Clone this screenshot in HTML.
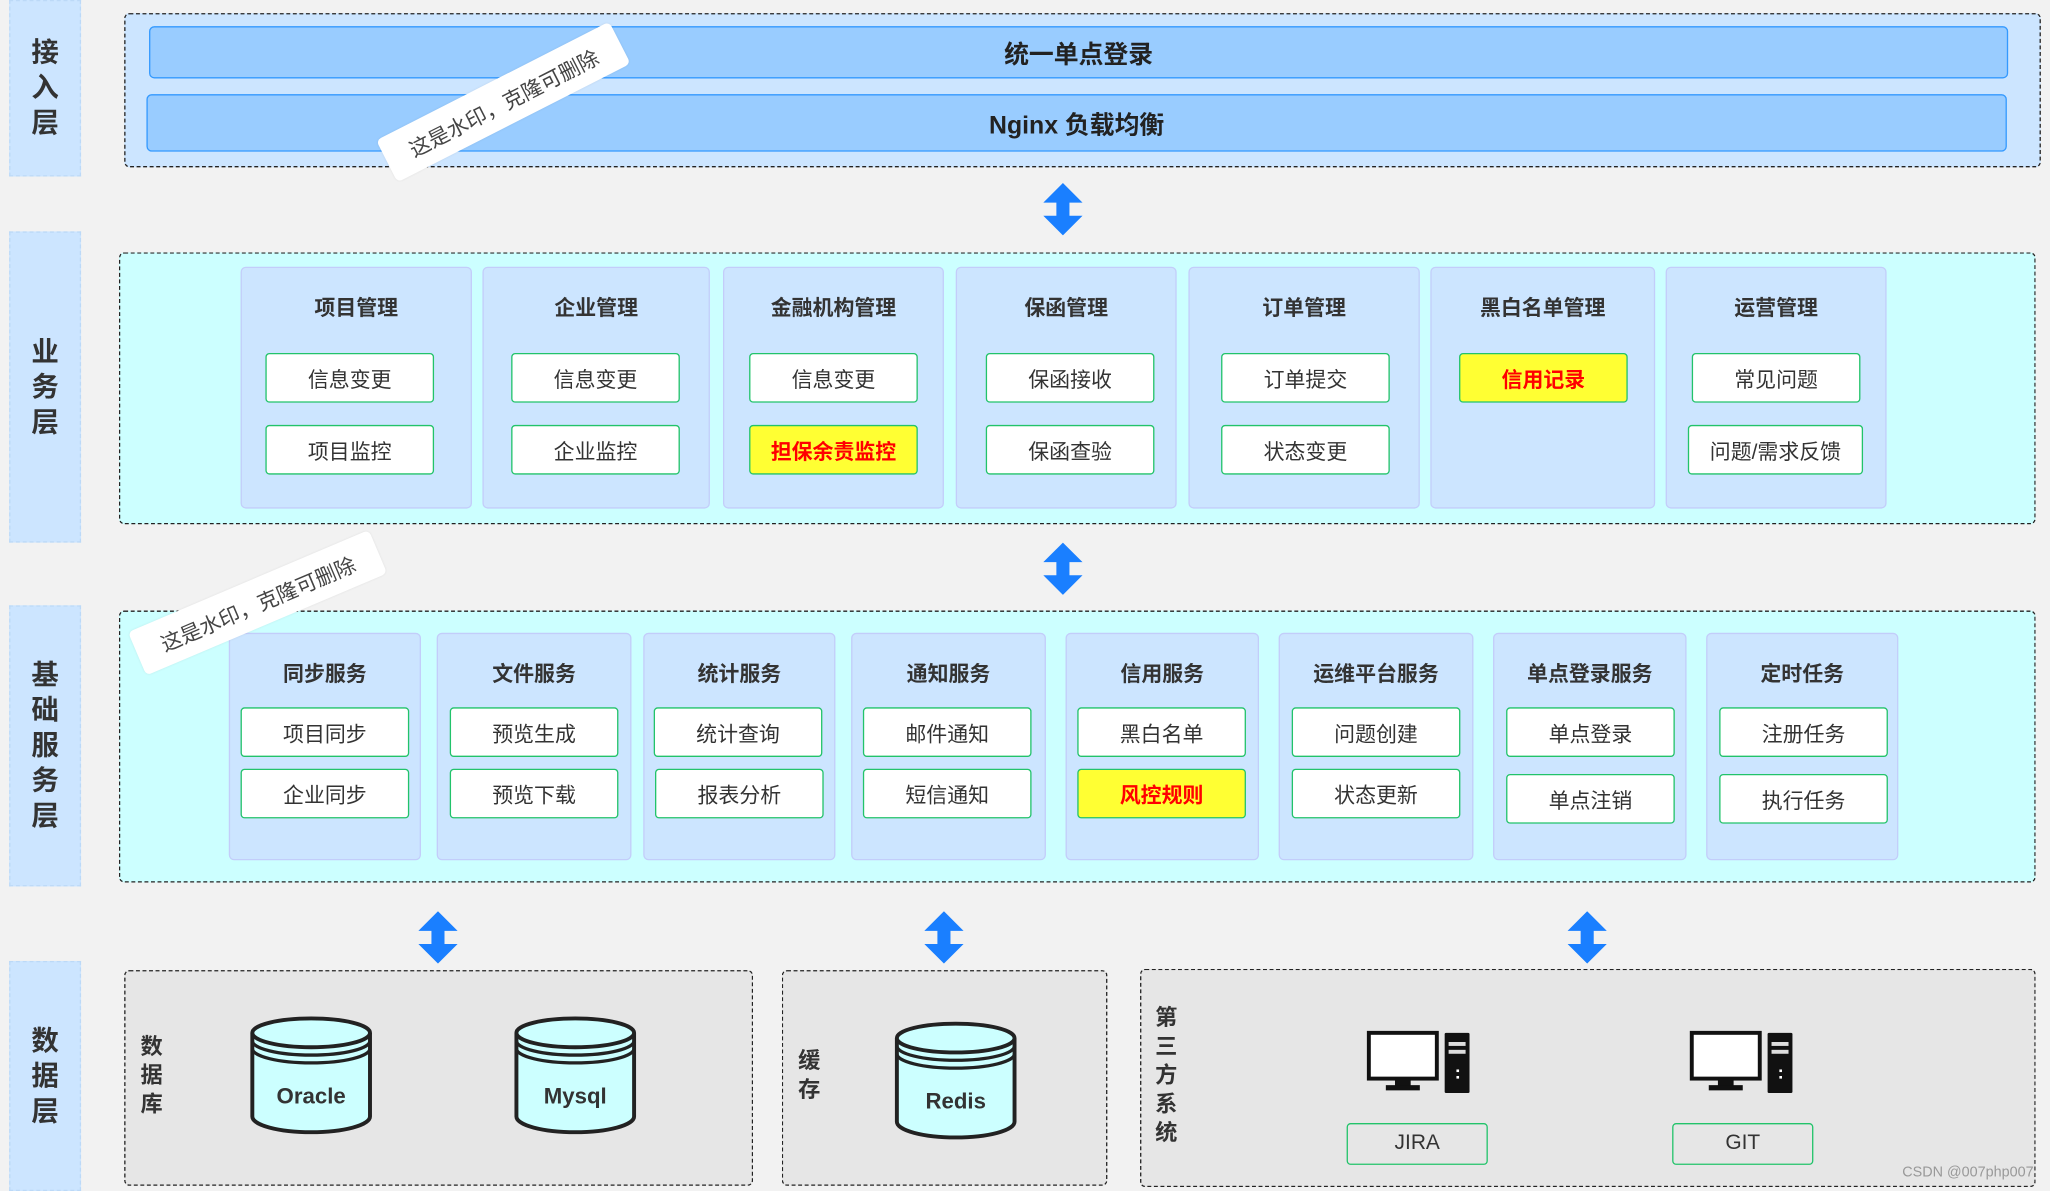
<!DOCTYPE html>
<html><head><meta charset="utf-8">
<style>
html,body{margin:0;padding:0;background:#f2f2f2;}
body{width:2050px;height:1191px;overflow:hidden;position:relative;font-family:"Liberation Sans","Noto Sans CJK SC",sans-serif;}
#w{position:absolute;left:0;top:0;width:1568px;height:911px;transform:scale(1.3074);transform-origin:0 0;}
.a{position:absolute;box-sizing:border-box;}
.lab{position:absolute;left:7px;width:55px;background:#cce5ff;border:1px dashed #bcd9f7;box-sizing:border-box;display:flex;align-items:center;justify-content:center;font-weight:bold;font-size:21px;color:#333;line-height:27px;text-align:center;}
.box{position:absolute;border:1.8px dashed #222;border-radius:4px;box-sizing:border-box;}
.bar{position:absolute;background:#99ccff;border:1.5px solid #3399ff;border-radius:4px;box-sizing:border-box;display:flex;align-items:center;justify-content:center;font-weight:bold;font-size:19px;color:#222;}
.col{position:absolute;background:#cce5ff;border:1px solid #c3cdfa;border-radius:4px;box-sizing:border-box;}
.t{position:absolute;font-weight:bold;font-size:16px;color:#333;text-align:center;}
.b{position:absolute;width:129px;height:38px;background:#fff;border:1.5px solid #22c36a;border-radius:3px;box-sizing:border-box;display:flex;align-items:center;justify-content:center;font-size:16px;color:#333;}
.y{background:#ffff33;color:#ff0000;font-weight:bold;}
.v{position:absolute;font-weight:bold;font-size:17px;color:#333;width:20px;line-height:22px;text-align:center;}
.wm{position:absolute;background:#fff;border-radius:4px;font-size:16px;color:#444;display:flex;align-items:center;justify-content:center;box-shadow:0 0 2px rgba(0,0,0,.08);}
</style></head><body><div id="w">

<div class="lab" style="top:0;height:135px;">接<br>入<br>层</div>
<div class="lab" style="top:177px;height:238px;">业<br>务<br>层</div>
<div class="lab" style="top:463px;height:215px;">基<br>础<br>服<br>务<br>层</div>
<div class="lab" style="top:735px;height:176px;">数<br>据<br>层</div>

<div class="box" style="left:95px;top:10px;width:1466px;height:118px;background:#cce5ff;"></div>
<div class="bar" style="left:114px;top:20px;width:1422px;height:40px;">统一单点登录</div>
<div class="bar" style="left:112px;top:72px;width:1423px;height:44px;">Nginx 负载均衡</div>

<svg class="a" style="left:798px;top:140px" width="30" height="40"><polygon points="15,0 30,15 20,15 20,25 30,25 15,40 0,25 10,25 10,15 0,15" fill="#1a7fff"/></svg>
<svg class="a" style="left:798px;top:415px" width="30" height="40"><polygon points="15,0 30,15 20,15 20,25 30,25 15,40 0,25 10,25 10,15 0,15" fill="#1a7fff"/></svg>
<svg class="a" style="left:320px;top:697px" width="30" height="40"><polygon points="15,0 30,15 20,15 20,25 30,25 15,40 0,25 10,25 10,15 0,15" fill="#1a7fff"/></svg>
<svg class="a" style="left:707px;top:697px" width="30" height="40"><polygon points="15,0 30,15 20,15 20,25 30,25 15,40 0,25 10,25 10,15 0,15" fill="#1a7fff"/></svg>
<svg class="a" style="left:1199px;top:697px" width="30" height="40"><polygon points="15,0 30,15 20,15 20,25 30,25 15,40 0,25 10,25 10,15 0,15" fill="#1a7fff"/></svg>

<!-- business -->
<div class="box" style="left:91px;top:193px;width:1466px;height:208px;background:#ccffff;"></div>
<div class="col" style="left:184px;top:204px;width:177px;height:185px;"></div>
<div class="col" style="left:369px;top:204px;width:174px;height:185px;"></div>
<div class="col" style="left:553px;top:204px;width:169px;height:185px;"></div>
<div class="col" style="left:731px;top:204px;width:169px;height:185px;"></div>
<div class="col" style="left:909px;top:204px;width:177px;height:185px;"></div>
<div class="col" style="left:1094px;top:204px;width:172px;height:185px;"></div>
<div class="col" style="left:1274px;top:204px;width:169px;height:185px;"></div>
<div class="t" style="left:184px;top:222px;width:177px;">项目管理</div>
<div class="t" style="left:369px;top:222px;width:174px;">企业管理</div>
<div class="t" style="left:553px;top:222px;width:169px;">金融机构管理</div>
<div class="t" style="left:731px;top:222px;width:169px;">保函管理</div>
<div class="t" style="left:909px;top:222px;width:177px;">订单管理</div>
<div class="t" style="left:1094px;top:222px;width:172px;">黑白名单管理</div>
<div class="t" style="left:1274px;top:222px;width:169px;">运营管理</div>
<div class="b" style="left:203px;top:270px;">信息变更</div>
<div class="b" style="left:203px;top:325px;">项目监控</div>
<div class="b" style="left:391px;top:270px;">信息变更</div>
<div class="b" style="left:391px;top:325px;">企业监控</div>
<div class="b" style="left:573px;top:270px;">信息变更</div>
<div class="b y" style="left:573px;top:325px;">担保余责监控</div>
<div class="b" style="left:754px;top:270px;">保函接收</div>
<div class="b" style="left:754px;top:325px;">保函查验</div>
<div class="b" style="left:934px;top:270px;">订单提交</div>
<div class="b" style="left:934px;top:325px;">状态变更</div>
<div class="b y" style="left:1116px;top:270px;">信用记录</div>
<div class="b" style="left:1294px;top:270px;">常见问题</div>
<div class="b" style="left:1291px;top:325px;width:134px;">问题/需求反馈</div>

<!-- base -->
<div class="box" style="left:91px;top:467px;width:1466px;height:208px;background:#ccffff;"></div>
<div class="col" style="left:175px;top:484px;width:147px;height:174px;"></div>
<div class="col" style="left:334px;top:484px;width:149px;height:174px;"></div>
<div class="col" style="left:492px;top:484px;width:147px;height:174px;"></div>
<div class="col" style="left:651px;top:484px;width:149px;height:174px;"></div>
<div class="col" style="left:815px;top:484px;width:148px;height:174px;"></div>
<div class="col" style="left:978px;top:484px;width:149px;height:174px;"></div>
<div class="col" style="left:1142px;top:484px;width:148px;height:174px;"></div>
<div class="col" style="left:1305px;top:484px;width:147px;height:174px;"></div>
<div class="t" style="left:175px;top:502px;width:147px;">同步服务</div>
<div class="t" style="left:334px;top:502px;width:149px;">文件服务</div>
<div class="t" style="left:492px;top:502px;width:147px;">统计服务</div>
<div class="t" style="left:651px;top:502px;width:149px;">通知服务</div>
<div class="t" style="left:815px;top:502px;width:148px;">信用服务</div>
<div class="t" style="left:978px;top:502px;width:149px;">运维平台服务</div>
<div class="t" style="left:1142px;top:502px;width:148px;">单点登录服务</div>
<div class="t" style="left:1305px;top:502px;width:147px;">定时任务</div>
<div class="b" style="left:184px;top:541px;">项目同步</div>
<div class="b" style="left:184px;top:588px;">企业同步</div>
<div class="b" style="left:344px;top:541px;">预览生成</div>
<div class="b" style="left:344px;top:588px;">预览下载</div>
<div class="b" style="left:500px;top:541px;">统计查询</div>
<div class="b" style="left:501px;top:588px;">报表分析</div>
<div class="b" style="left:660px;top:541px;">邮件通知</div>
<div class="b" style="left:660px;top:588px;">短信通知</div>
<div class="b" style="left:824px;top:541px;">黑白名单</div>
<div class="b y" style="left:824px;top:588px;">风控规则</div>
<div class="b" style="left:988px;top:541px;">问题创建</div>
<div class="b" style="left:988px;top:588px;">状态更新</div>
<div class="b" style="left:1152px;top:541px;">单点登录</div>
<div class="b" style="left:1152px;top:592px;">单点注销</div>
<div class="b" style="left:1315px;top:541px;">注册任务</div>
<div class="b" style="left:1315px;top:592px;">执行任务</div>

<!-- data -->
<div class="box" style="left:95px;top:742px;width:481px;height:165px;background:#e6e6e6;"></div>
<div class="box" style="left:598px;top:742px;width:249px;height:165px;background:#e6e6e6;"></div>
<div class="box" style="left:872px;top:741px;width:685px;height:167px;background:#e6e6e6;"></div>
<div class="v" style="left:106px;top:790px;">数<br>据<br>库</div>
<div class="v" style="left:609px;top:801px;">缓<br>存</div>
<div class="v" style="left:882px;top:768px;">第<br>三<br>方<br>系<br>统</div>

<svg class="a" style="left:190px;top:776px" width="96" height="94">
<path d="M3,14 L3,78 A45,12 0 0 0 93,78 L93,14" fill="#ccffff" stroke="#222" stroke-width="3"/>
<ellipse cx="48" cy="14" rx="45" ry="11" fill="#ccffff" stroke="#222" stroke-width="3"/>
<path d="M3,20 A45,11 0 0 0 93,20 M3,26 A45,11 0 0 0 93,26" fill="none" stroke="#222" stroke-width="2.5"/>
<text x="48" y="68" text-anchor="middle" font-family="Liberation Sans,sans-serif" font-weight="bold" font-size="17" fill="#333">Oracle</text></svg>
<svg class="a" style="left:392px;top:776px" width="96" height="94">
<path d="M3,14 L3,78 A45,12 0 0 0 93,78 L93,14" fill="#ccffff" stroke="#222" stroke-width="3"/>
<ellipse cx="48" cy="14" rx="45" ry="11" fill="#ccffff" stroke="#222" stroke-width="3"/>
<path d="M3,20 A45,11 0 0 0 93,20 M3,26 A45,11 0 0 0 93,26" fill="none" stroke="#222" stroke-width="2.5"/>
<text x="48" y="68" text-anchor="middle" font-family="Liberation Sans,sans-serif" font-weight="bold" font-size="17" fill="#333">Mysql</text></svg>
<svg class="a" style="left:683px;top:780px" width="96" height="94">
<path d="M3,14 L3,78 A45,12 0 0 0 93,78 L93,14" fill="#ccffff" stroke="#222" stroke-width="3"/>
<ellipse cx="48" cy="14" rx="45" ry="11" fill="#ccffff" stroke="#222" stroke-width="3"/>
<path d="M3,20 A45,11 0 0 0 93,20 M3,26 A45,11 0 0 0 93,26" fill="none" stroke="#222" stroke-width="2.5"/>
<text x="48" y="68" text-anchor="middle" font-family="Liberation Sans,sans-serif" font-weight="bold" font-size="17" fill="#333">Redis</text></svg>

<svg class="a" style="left:1045px;top:788px" width="82" height="48">
<rect x="2" y="2" width="52" height="35" fill="#fff" stroke="#111" stroke-width="3"/>
<rect x="22" y="37" width="12" height="6" fill="#111"/><rect x="15" y="42" width="26" height="4" fill="#111"/>
<rect x="60" y="2" width="19" height="46" fill="#111" rx="1"/>
<rect x="63" y="9" width="13" height="3" fill="#ddd"/><rect x="63" y="15" width="13" height="3" fill="#ddd"/>
<rect x="69" y="30" width="2" height="2" fill="#fff"/><rect x="69" y="35" width="2" height="2" fill="#fff"/></svg>
<svg class="a" style="left:1292px;top:788px" width="82" height="48">
<rect x="2" y="2" width="52" height="35" fill="#fff" stroke="#111" stroke-width="3"/>
<rect x="22" y="37" width="12" height="6" fill="#111"/><rect x="15" y="42" width="26" height="4" fill="#111"/>
<rect x="60" y="2" width="19" height="46" fill="#111" rx="1"/>
<rect x="63" y="9" width="13" height="3" fill="#ddd"/><rect x="63" y="15" width="13" height="3" fill="#ddd"/>
<rect x="69" y="30" width="2" height="2" fill="#fff"/><rect x="69" y="35" width="2" height="2" fill="#fff"/></svg>
<div class="b" style="left:1030px;top:859px;width:108px;height:32px;background:#e6e6e6;">JIRA</div>
<div class="b" style="left:1279px;top:859px;width:108px;height:32px;background:#e6e6e6;">GIT</div>

<div class="wm" style="left:285px;top:60px;width:200px;height:36px;transform:rotate(-27deg);">这是水印，克隆可删除</div>
<div class="wm" style="left:97px;top:443px;width:200px;height:36px;transform:rotate(-23deg);">这是水印，克隆可删除</div>
<div class="a" style="left:1455px;top:891px;font-size:11px;color:#999;">CSDN @007php007</div>
</div></body></html>
